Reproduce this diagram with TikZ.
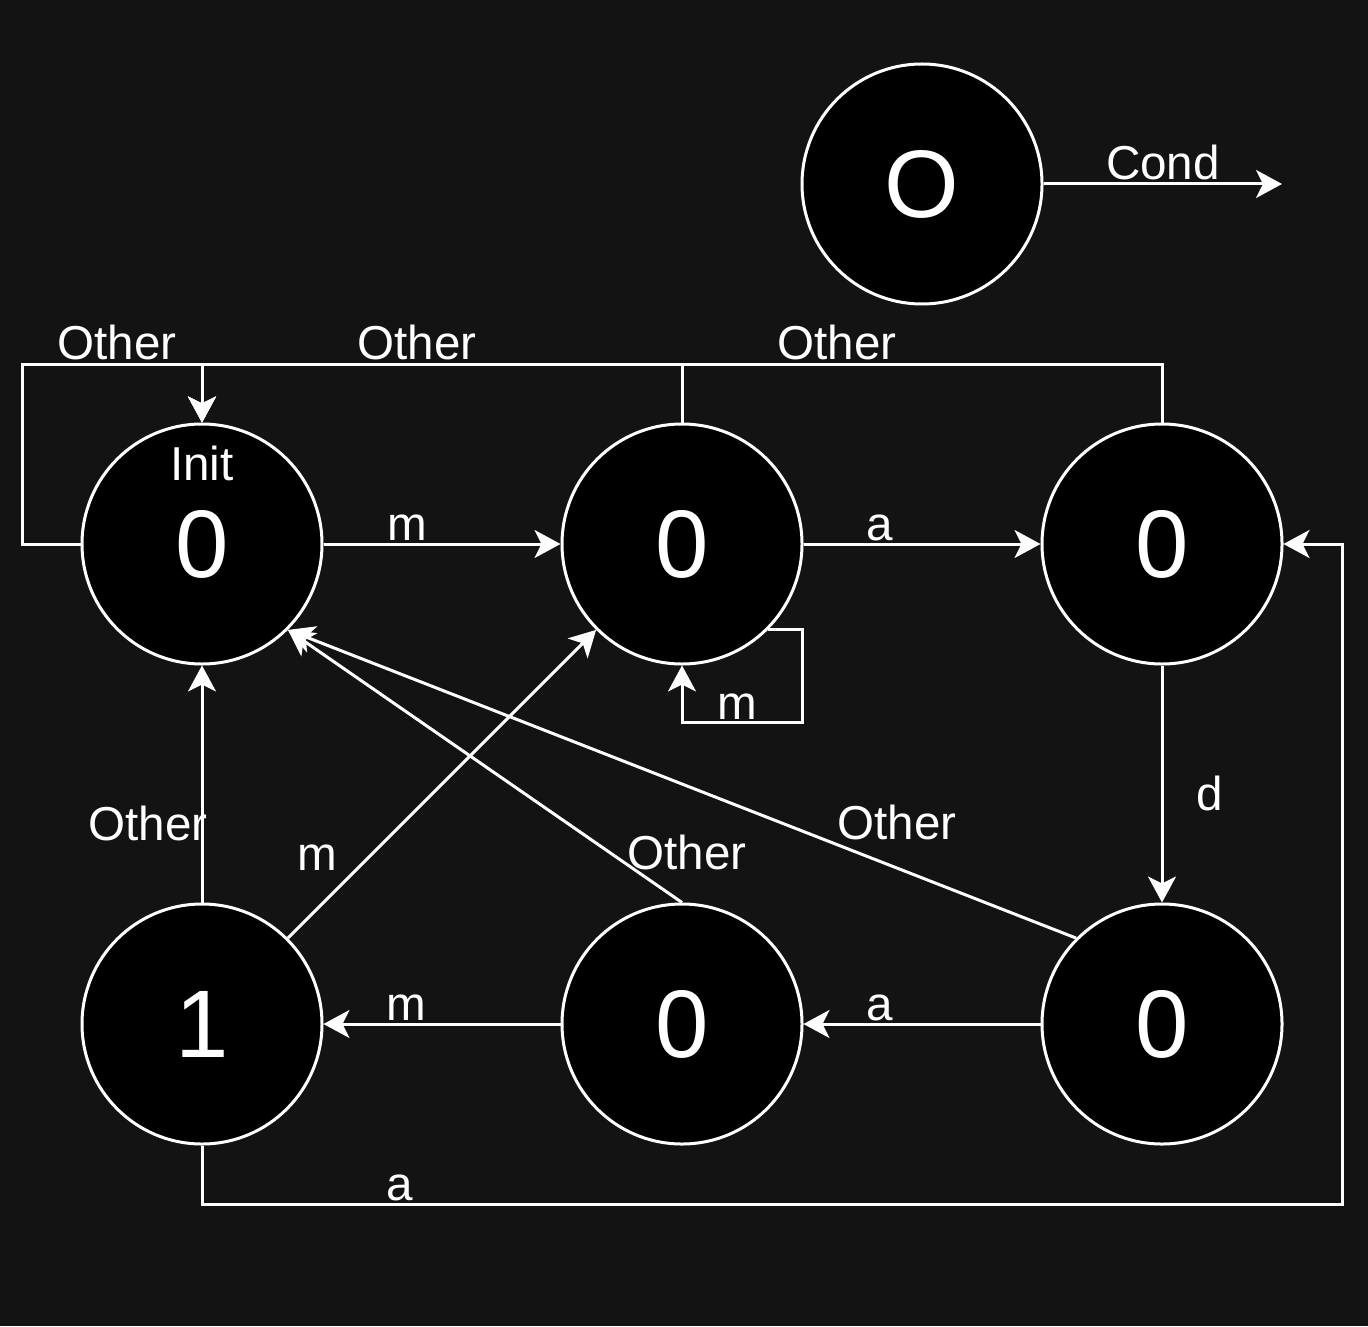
\documentclass[tikz,border=0pt]{standalone}
\usepackage{fontspec}
\setmainfont{Liberation Sans}
\usetikzlibrary{arrows.meta}
\definecolor{bg}{HTML}{131313}
\tikzset{
  state/.style={circle, draw=white, fill=black, line width=1.5pt, minimum size=120pt, inner sep=0pt, text=white, font=\fontsize{48}{56}\selectfont},
  lbl/.style={text=white, font=\fontsize{23.8}{28}\selectfont, inner sep=0pt, anchor=base},
  edge/.style={draw=white, line width=1.5pt, -{Stealth[length=13pt,width=14pt,inset=3.5pt]}},
}
\begin{document}
\begin{tikzpicture}[x=0.5pt,y=-0.5pt]
\fill[bg] (0,0) rectangle (1368,1326);
\useasboundingbox (0,0) rectangle (1368,1326);

% states
\node[state] (L) at (922,184) {O};
\node[state] (init) at (202,544) {0};
\node[state] (A) at (682,544) {0};
\node[state] (B) at (1162,544) {0};
\node[state] (E) at (202,1024) {1};
\node[state] (D) at (682,1024) {0};
\node[state] (C) at (1162,1024) {0};
\node[lbl] (initlbl) at (202,480) {Init};

% waypoints
\coordinate (condend) at (1282,184);
\coordinate (topbar) at (202,364);
\coordinate (leftc) at (22,544);
\coordinate (loopc) at (802,722);
\coordinate (botc) at (202,1204);
\coordinate (rightc) at (1342,544);

% connectors
\draw[edge] (L.east) -- (condend);
\draw[edge] (init) -- (A);
\draw[edge] (A) -- (B);
\draw[edge] (A.-45) -| (loopc) -| (A.south);
\draw[edge] (B) -- (C);
\draw[edge] (C) -- (D);
\draw[edge] (D) -- (E);
\draw[edge] (E) -- (init);
\draw[edge] (E.45) -- (A.-135);
\draw[edge] (D.north) -- (init.-45);
\draw[edge] (C.135) -- (init.-45);
\draw[edge] (E.south) -- (botc) -| (rightc) -- (B.east);
\draw[edge] (init.west) -- (leftc) |- (topbar) -- (init.north);
\draw[edge] (A.north) |- (topbar) -- (init.north);
\draw[edge] (B.north) |- (topbar) -- (init.north);

% labels
\node[lbl] (l1) at (117,359) {Other};
\node[lbl] (l2) at (417,359) {Other};
\node[lbl] (l3) at (837,359) {Other};
\node[lbl] (l4) at (407,540) {m};
\node[lbl] (l5) at (880,540) {a};
\node[lbl] (l6) at (737,719) {m};
\node[lbl] (l7) at (1210,810) {d};
\node[lbl] (l8) at (148,840) {Other};
\node[lbl] (l9) at (317,870) {m};
\node[lbl] (l10) at (687,869) {Other};
\node[lbl] (l11) at (897,839) {Other};
\node[lbl] (l12) at (880,1020) {a};
\node[lbl] (l13) at (406,1020) {m};
\node[lbl] (l14) at (400,1200) {a};
\node[lbl] (l15) at (1163,180) {Cond};
\end{tikzpicture}
\end{document}
